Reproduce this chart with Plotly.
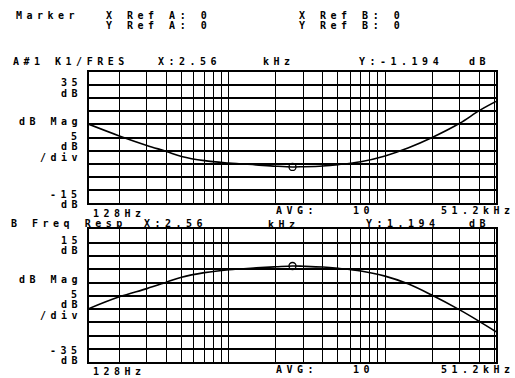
import plotly.graph_objects as go

# frequency points (Hz)
freq = [128, 200, 300, 400, 500, 700, 1000, 1500, 2000, 2560, 3000, 4000,
        5000, 7000, 10000, 14000, 20000, 30000, 40000, 51200]
# A: K1/FRES (dB)
trace_a = [15, 10.6, 7, 4.7, 2.8, 1.2, 0.3, -0.4, -0.9, -1.194, -1.1, -0.8,
           -0.3, 0.8, 3.0, 6.0, 10, 15.4, 20.2, 23.7]
# B: Freq Resp (dB)
trace_b = [-14.8, -10.4, -7.3, -4.9, -3.0, -1.3, -0.2, 0.5, 0.9, 1.194, 1.1, 0.8,
           0.3, -0.7, -2.6, -5.5, -9.8, -15.3, -19.6, -23.5]

marker_x = [2560]
marker_a = [-1.194]
marker_b = [1.194]

grid_freqs = [200, 300, 400, 500, 600, 700, 800, 900, 1000,
              2000, 3000, 4000, 5000, 6000, 7000, 8000, 9000, 10000,
              20000, 30000, 40000, 50000]

W, H = 515, 378
FONT = "DejaVu Sans Mono"


def px(x):
    return x / W


def py(y):
    return 1 - y / H


fig = go.Figure()
fig.add_trace(go.Scatter(x=freq, y=trace_a, mode="lines", line=dict(color="black", width=1.6, shape="spline"),
                         xaxis="x", yaxis="y", showlegend=False))
fig.add_trace(go.Scatter(x=marker_x, y=marker_a, mode="markers",
                         marker=dict(symbol="circle-open", size=7, color="black", line=dict(width=1.3)),
                         xaxis="x", yaxis="y", showlegend=False))
fig.add_trace(go.Scatter(x=freq, y=trace_b, mode="lines", line=dict(color="black", width=1.6, shape="spline"),
                         xaxis="x2", yaxis="y2", showlegend=False))
fig.add_trace(go.Scatter(x=marker_x, y=marker_b, mode="markers",
                         marker=dict(symbol="circle-open", size=7, color="black", line=dict(width=1.3)),
                         xaxis="x2", yaxis="y2", showlegend=False))

xdom = [px(89), px(496)]
xax = dict(type="log", range=[2.10721, 4.70927], tickvals=grid_freqs, showticklabels=False,
           showgrid=True, gridcolor="black", gridwidth=1, ticks="",
           showline=True, linecolor="black", linewidth=1.5, mirror=True, zeroline=False,
           domain=xdom)
yax = dict(dtick=5, showticklabels=False, showgrid=True, gridcolor="black", gridwidth=1.6,
           ticks="", showline=True, linecolor="black", linewidth=1.5, mirror=True, zeroline=False)

fig.update_layout(
    width=W, height=H,
    margin=dict(l=0, r=0, t=0, b=0),
    paper_bgcolor="white", plot_bgcolor="white",
    xaxis=dict(xax, anchor="y"),
    yaxis=dict(yax, range=[-15, 35], domain=[py(203.3), py(71.7)], anchor="x"),
    xaxis2=dict(xax, anchor="y2"),
    yaxis2=dict(yax, range=[-35, 15], domain=[py(362.3), py(229.3)], anchor="x2"),
)


def label(text, x, y, anchor="left"):
    fig.add_annotation(
        text=f'<span style="letter-spacing:4.5px">{text}</span>',
        x=px(x), y=py(y), xref="paper", yref="paper",
        xanchor=anchor, yanchor="middle", showarrow=False, borderpad=0,
        font=dict(family=FONT, size=10, color="black", weight="bold"),
    )


# header
label("Marker", 15, 15.5)
label("X Ref A: 0", 105, 15.5)
label("Y Ref A: 0", 105, 25.5)
label("X Ref B: 0", 298, 15.5)
label("Y Ref B: 0", 298, 25.5)

# upper trace titles
label("A#1 K1/FRES", 12, 61)
label("X:2.56", 157, 61)
label("kHz", 262, 61)
label("Y:-1.194", 358, 61)
label("dB", 468, 61)

# upper y labels
for t, y in [("35", 83), ("dB", 93), ("dB Mag", 121), ("5", 136), ("dB", 146),
             ("/div", 157), ("-15", 194), ("dB", 204)]:
    label(t, 83, y, anchor="right")

# upper x labels
label("128Hz", 92, 213)
label("AVG:", 275, 210)
label("10", 352, 210)
label("51.2kHz", 440, 210)

# lower trace titles
label("B Freq Resp", 10, 223)
label("X:2.56", 143, 223)
label("kHz", 267, 224)
label("Y:1.194", 365, 223)
label("dB", 468, 223)

# lower y labels
for t, y in [("15", 240), ("dB", 250), ("dB Mag", 279), ("5", 294), ("dB", 304),
             ("/div", 315), ("-35", 350), ("dB", 360)]:
    label(t, 83, y, anchor="right")

# lower x labels
label("128Hz", 92, 371)
label("AVG:", 275, 369)
label("10", 352, 369)
label("51.2kHz", 440, 369)

fig.write_html("out.html", config={"displayModeBar": False},
               post_script="document.body.style.margin='0';")
